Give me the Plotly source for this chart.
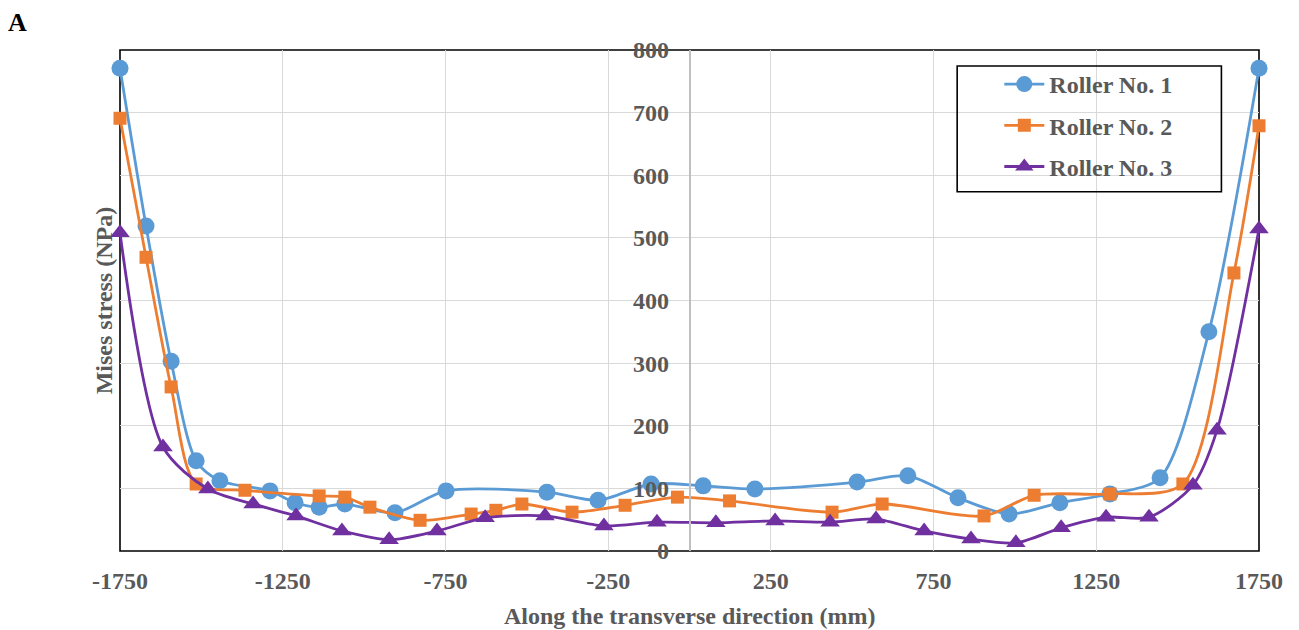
import plotly.graph_objects as go

# ---- data ----
r1_x = [-1750, -1670, -1593, -1516, -1443, -1289, -1212, -1138, -1059, -905, -748, -438, -281,
        -118, 42, 201, 515, 671, 825, 982, 1138, 1292, 1446, 1596, 1750]
r1_y = [771, 519, 303, 144, 112, 96, 77, 70, 75, 61, 96, 94, 81,
        107, 104, 99, 110, 120, 85, 59, 77, 91, 117, 350, 771]

r2_x = [-1750, -1670, -1593, -1516, -1366, -1138, -1059, -982, -828, -671, -595, -515, -361,
        -198, -37, 123, 438, 592, 905, 1059, 1292, 1516, 1673, 1750]
r2_y = [691, 469, 262, 107, 97, 88, 86, 70, 49, 59, 65, 75, 62,
        73, 86, 80, 62, 75, 56, 89, 91, 107, 444, 679]

r3_x = [-1750, -1618, -1480, -1341, -1209, -1068, -923, -776, -628, -444, -263, -100, 81,
        263, 432, 573, 721, 865, 1003, 1142, 1280, 1412, 1547, 1621, 1750]
r3_y = [508, 166, 99, 75, 56, 32, 18, 32, 53, 56, 40, 46, 45,
        48, 46, 51, 32, 19, 13, 37, 54, 54, 105, 193, 514]

series_names = ["Roller No. 1", "Roller No. 2", "Roller No. 3"]
x_ticks = [-1750, -1250, -750, -250, 250, 750, 1250, 1750]
y_ticks = [0, 100, 200, 300, 400, 500, 600, 700, 800]

FONT = "Liberation Serif, Times New Roman, serif"
GRAY = "#595959"

colors = ["#5B9BD5", "#ED7D31", "#7030A0"]
symbols = ["circle", "square", "triangle-up"]
msizes = [17, 13, 17]

fig = go.Figure()
for i, (xs, ys) in enumerate([(r1_x, r1_y), (r2_x, r2_y), (r3_x, r3_y)]):
    fig.add_trace(go.Scatter(
        x=xs, y=ys, name=series_names[i], mode="lines+markers",
        line=dict(color=colors[i], width=2.8, shape="spline", smoothing=0.8),
        marker=dict(symbol=symbols[i], size=msizes[i], color=colors[i]),
        cliponaxis=False, legendgroup=f"g{i}",
    ))

fig.update_layout(
    width=1291, height=622,
    margin=dict(l=112, r=40, t=42, b=79),
    plot_bgcolor="white", paper_bgcolor="white",
    font=dict(family=FONT, size=24, color=GRAY),
    showlegend=True,
    legend=dict(x=0.772, y=0.976, xanchor="left", yanchor="top",
                bgcolor="rgba(0,0,0,0)", borderwidth=0,
                font=dict(family=FONT, size=24, color=GRAY, weight="bold"),
                tracegroupgap=7, itemwidth=40),
    xaxis=dict(range=[-1750, 1750], tickvals=x_ticks, ticktext=[str(v) for v in x_ticks],
               showgrid=True, gridcolor="#d9d9d9", gridwidth=1.3, zeroline=False,
               showline=False, ticks="", ticklabelstandoff=13,
               tickfont=dict(family=FONT, size=24, color=GRAY, weight="bold")),
    yaxis=dict(range=[0, 800], tickvals=y_ticks, showgrid=True, gridcolor="#d9d9d9", gridwidth=1.3,
               zeroline=False, anchor="free", position=0.5, showline=True,
               linecolor="#bfbfbf", linewidth=1.5, ticks="", ticklabelstandoff=15,
               tickfont=dict(family=FONT, size=24, color=GRAY, weight="bold")),
)

# plot-area frame
fig.add_shape(type="rect", xref="paper", yref="paper", x0=0, x1=1, y0=0, y1=1,
              line=dict(color="black", width=1.6), layer="between")
# legend frame
fig.add_shape(type="rect", xref="paper", yref="paper", x0=0.735, x1=0.967, y0=0.717, y1=0.968,
              line=dict(color="black", width=1.6), layer="above")

fig.add_annotation(text="<b>Along the transverse direction (mm)</b>", xref="paper", yref="paper",
                   x=0.5, y=-0.13, xanchor="center", yanchor="middle", showarrow=False,
                   font=dict(family=FONT, size=24, color=GRAY))
fig.add_annotation(text="<b>Mises stress (NPa)</b>", xref="paper", yref="paper",
                   x=-0.0142, y=0.5, xanchor="center", yanchor="middle", showarrow=False,
                   textangle=-90, font=dict(family=FONT, size=24, color=GRAY))
fig.add_annotation(text="<b>A</b>", xref="paper", yref="paper",
                   x=-0.1, y=1.054, xanchor="left", yanchor="middle", showarrow=False,
                   font=dict(family=FONT, size=26, color="black"))

fig.write_html("out.html")
